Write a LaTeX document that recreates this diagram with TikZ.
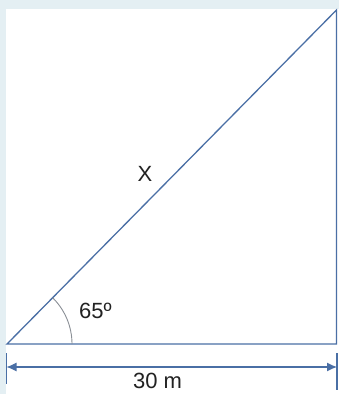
\documentclass[tikz,border=0pt]{standalone}
\usepackage{fontspec}
\setmainfont{Liberation Sans}
\usetikzlibrary{arrows.meta}
\definecolor{bgc}{HTML}{E4EFF3}
\definecolor{linec}{HTML}{4A6FA5}
\definecolor{arcc}{HTML}{8A8F96}
\definecolor{txtc}{HTML}{222222}
\begin{document}
\begin{tikzpicture}[x=1pt,y=-1pt,
  edge/.style={draw=linec,line width=1.3pt},
  dim/.style={draw=linec,line width=1.1pt},
  lbl/.style={font=\fontsize{22}{24}\selectfont,text=txtc,inner sep=0pt}]
\useasboundingbox (0,0) rectangle (339,394);
\fill[bgc] (0,0) rectangle (339,394);
\fill[white] (6,9) rectangle (339,394);
\coordinate (A) at (7,344);
\coordinate (B) at (336.5,344);
\coordinate (C) at (336.5,10);
\draw[edge] (A) -- (B) -- (C) -- cycle;
\draw[arcc,line width=0.9pt] (72,344) arc[start angle=0,end angle=-45.4,radius=65];
\coordinate (T1a) at (6.5,353);
\coordinate (T1b) at (6.5,384);
\coordinate (T2a) at (337,353);
\coordinate (T2b) at (337,390);
\draw[dim] (T1a) -- (T1b);
\draw[dim] (T2a) -- (T2b);
\coordinate (D1) at (6.5,367);
\coordinate (D2) at (337,367);
\draw[dim,{Latex[length=10pt,width=9pt]}-{Latex[length=10pt,width=9pt]}] (D1) -- (D2);
\node[lbl] (x) at (145,174) {X};
\node[lbl] (ang) at (95.5,311) {65º};
\node[lbl] (len) at (157.5,381) {30 m};
\end{tikzpicture}
\end{document}
